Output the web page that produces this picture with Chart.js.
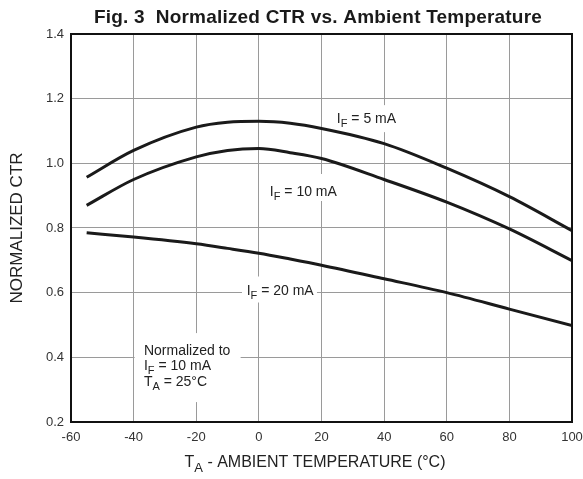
<!DOCTYPE html>
<html lang="en">
<head>
    <meta charset="UTF-8">
    <title>Fig. 3 Normalized CTR vs. Ambient Temperature</title>
    <script src="https://cdn.jsdelivr.net/npm/chart.js"></script>
    <style>
        html, body { margin: 0; padding: 0; background: #fff; }
        #wrap { width: 583px; height: 479px; position: relative; }
    </style>
</head>
<body>
    <div id="wrap"><canvas id="ctrChart"></canvas></div>

    <script>
        // temperatures (°C)
        const tempC = [-55, -40, -20, -10, 0, 10, 20, 40, 60, 80, 100];
        // normalized CTR for each forward current
        const ctr5mA  = [0.957, 1.040, 1.112, 1.127, 1.130, 1.124, 1.108, 1.061, 0.985, 0.897, 0.792];
        const ctr10mA = [0.870, 0.950, 1.020, 1.040, 1.046, 1.033, 1.015, 0.950, 0.880, 0.797, 0.699];
        const ctr20mA = [0.785, 0.772, 0.751, 0.737, 0.722, 0.704, 0.685, 0.643, 0.600, 0.549, 0.498];
        const xTicks = [-60, -40, -20, 0, 20, 40, 60, 80, 100];
        const yTicks = [0.2, 0.4, 0.6, 0.8, 1.0, 1.2, 1.4];

        const FONT = '"Liberation Sans", Arial, sans-serif';

        function pts(ys) {
            return tempC.map((t, i) => ({ x: t, y: ys[i] }));
        }

        // text with subscripts: parts = [[text, isSub], ...]
        function subText(ctx, parts, x, y, size, align) {
            const subSize = Math.round(size * 0.8);
            let w = 0;
            parts.forEach(p => {
                ctx.font = (p[1] ? subSize : size) + 'px ' + FONT;
                w += ctx.measureText(p[0]).width;
            });
            let cx = align === 'center' ? x - w / 2 : x;
            ctx.textAlign = 'left';
            ctx.textBaseline = 'alphabetic';
            parts.forEach(p => {
                ctx.font = (p[1] ? subSize : size) + 'px ' + FONT;
                ctx.fillText(p[0], cx, p[1] ? y + size * 0.3 : y);
                cx += ctx.measureText(p[0]).width;
            });
            return w;
        }

        const decor = {
            id: 'decor',
            beforeDatasetsDraw(chart) {
                const ctx = chart.ctx;
                const xs = chart.scales.x, ys = chart.scales.y;
                const px = v => xs.getPixelForValue(v), py = v => ys.getPixelForValue(v);
                ctx.save();
                // white patches behind the in-plot labels
                ctx.fillStyle = '#fff';
                ctx.fillRect(px(-40) + 1, py(0.475), 106, 69);
                ctx.fillRect(px(-5.4), py(0.65), 75, 26);
                ctx.fillRect(px(2), py(0.967), 75, 27);
                ctx.fillRect(px(22.5), py(1.18), 69, 27);

                ctx.fillStyle = '#222';
                subText(ctx, [['I', 0], ['F', 1], [' = 5 mA', 0]], px(24.9), py(1.125), 14);
                subText(ctx, [['I', 0], ['F', 1], [' = 10 mA', 0]], px(3.5), py(0.899), 14);
                subText(ctx, [['I', 0], ['F', 1], [' = 20 mA', 0]], px(-3.9), py(0.593), 14);

                const nx = px(-36.7);
                subText(ctx, [['Normalized to', 0]], nx, py(0.407), 14);
                subText(ctx, [['I', 0], ['F', 1], [' = 10 mA', 0]], nx, py(0.361), 14);
                subText(ctx, [['T', 0], ['A', 1], [' = 25°C', 0]], nx, py(0.312), 14);
                ctx.restore();
            },
            afterDraw(chart) {
                const ctx = chart.ctx;
                const a = chart.chartArea;
                ctx.save();
                ctx.strokeStyle = '#111';
                ctx.lineWidth = 2;
                ctx.strokeRect(a.left, a.top, a.right - a.left, a.bottom - a.top);

                ctx.fillStyle = '#1a1a1a';
                ctx.font = 'bold 19px ' + FONT;
                ctx.letterSpacing = '0.2px';
                ctx.textAlign = 'center';
                ctx.textBaseline = 'alphabetic';
                ctx.fillText('Fig. 3  Normalized CTR vs. Ambient Temperature', 318, 23);
                ctx.letterSpacing = '0px';

                ctx.fillStyle = '#222';
                subText(ctx, [['T', 0], ['A', 1], [' - AMBIENT TEMPERATURE (°C)', 0]], 315, 467, 16, 'center');

                ctx.translate(17, (a.top + a.bottom) / 2);
                ctx.rotate(-Math.PI / 2);
                ctx.font = '17px ' + FONT;
                ctx.textAlign = 'center';
                ctx.textBaseline = 'middle';
                ctx.fillText('NORMALIZED CTR', 0, 0);
                ctx.restore();
            }
        };

        const lineStyle = {
            borderColor: '#1a1a1a',
            borderWidth: 3,
            pointRadius: 0,
            fill: false,
            cubicInterpolationMode: 'monotone'
        };

        new Chart(document.getElementById('ctrChart'), {
            type: 'line',
            data: {
                datasets: [
                    Object.assign({ label: 'IF = 5 mA', data: pts(ctr5mA) }, lineStyle),
                    Object.assign({ label: 'IF = 10 mA', data: pts(ctr10mA) }, lineStyle),
                    Object.assign({ label: 'IF = 20 mA', data: pts(ctr20mA) }, lineStyle)
                ]
            },
            options: {
                responsive: true,
                maintainAspectRatio: false,
                animation: false,
                layout: { padding: { top: 34, right: 0, left: 0, bottom: 0 } },
                plugins: {
                    legend: { display: false },
                    tooltip: { enabled: false }
                },
                scales: {
                    x: {
                        type: 'linear',
                        min: -60,
                        max: 100,
                        afterFit: s => { s.height = 57; s.paddingRight = 11; s.paddingLeft = 0; },
                        afterBuildTicks: s => { s.ticks = xTicks.map(v => ({ value: v })); },
                        grid: { color: '#9a9a9a', lineWidth: 1, drawTicks: false },
                        border: { display: false },
                        ticks: { color: '#333', padding: 8, font: { family: FONT, size: 13 } }
                    },
                    y: {
                        min: 0.2,
                        max: 1.4,
                        afterFit: s => { s.width = 71; },
                        afterBuildTicks: s => { s.ticks = yTicks.map(v => ({ value: v })); },
                        grid: { color: '#9a9a9a', lineWidth: 1, drawTicks: false },
                        border: { display: false },
                        ticks: {
                            color: '#333',
                            padding: 7,
                            font: { family: FONT, size: 13 },
                            callback: v => v.toFixed(1)
                        }
                    }
                }
            },
            plugins: [decor]
        });
    </script>
</body>
</html>
